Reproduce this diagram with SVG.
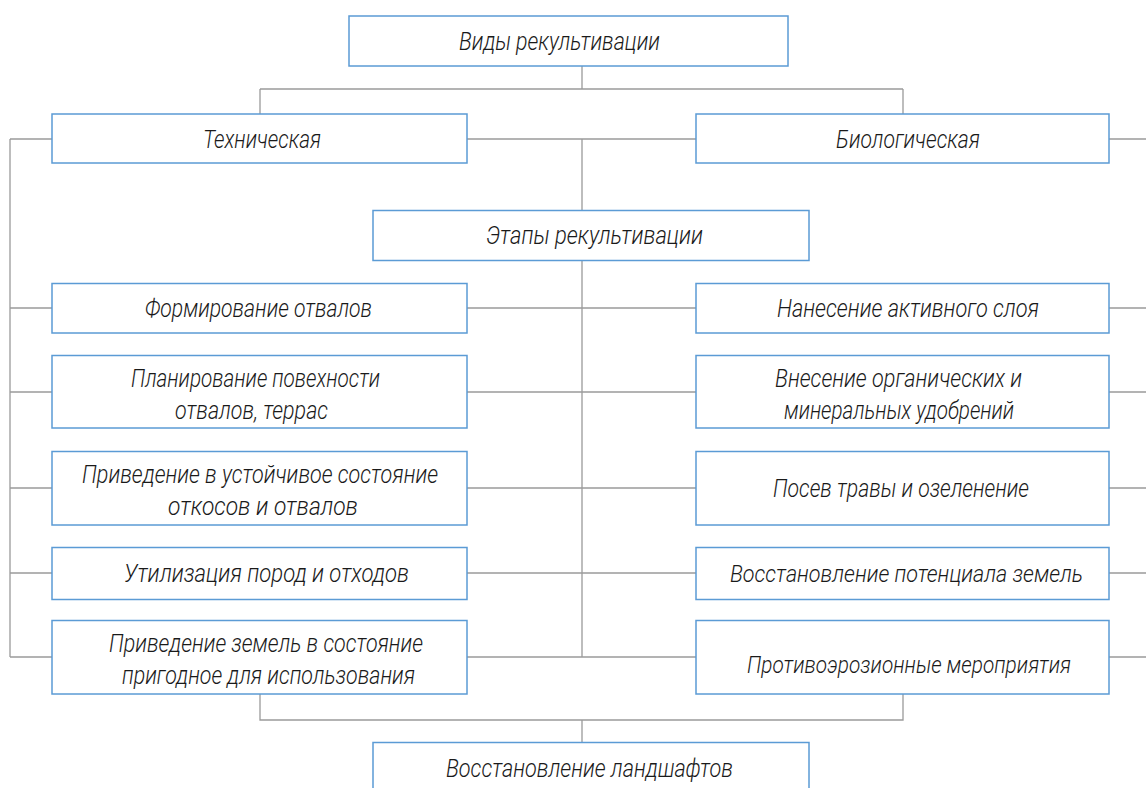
<svg xmlns="http://www.w3.org/2000/svg" width="1146" height="788" viewBox="0 0 1146 788">
<style>
.box{fill:#fff;stroke:#5b9bd5;stroke-width:1.5}
.ln{fill:none;stroke:#9a9a9a;stroke-width:1.3}
text{font-family:Roboto,"DejaVu Sans Condensed","Liberation Sans",sans-serif;font-weight:300;font-style:italic;font-size:25px;fill:#1a1a1a}
.sm{font-size:24px}
</style>
<rect width="1146" height="788" fill="#fff"/>
<g id="connectors" class="ln">
<path d="M582 66V89M260 89H903M260 89V114M903 89V114"/>
<path d="M10 139H52M467 139H696M1109 139H1146M582 139V210.5M582 260.5V657M10 139V657"/>
<path d="M10 308H52M467 308H696M1109 308H1146"/>
<path d="M10 392H52M467 392H696M1109 392H1146"/>
<path d="M10 488H52M467 488H696M1109 488H1146"/>
<path d="M10 573H52M467 573H696M1109 573H1146"/>
<path d="M10 657H52M467 657H696M1109 657H1146"/>
<path d="M260 694V720H903V694M582 720V742.5"/>
</g>
<g id="n-vidy"><rect class="box" x="349" y="16" width="439" height="50"/><text x="459" y="50" textLength="201" lengthAdjust="spacingAndGlyphs">Виды рекультивации</text></g>
<g id="n-tech"><rect class="box" x="52" y="114" width="415" height="49"/><text x="203" y="147.5" textLength="118" lengthAdjust="spacingAndGlyphs">Техническая</text></g>
<g id="n-bio"><rect class="box" x="696" y="114" width="413" height="49"/><text x="836" y="147.5" textLength="144" lengthAdjust="spacingAndGlyphs">Биологическая</text></g>
<g id="n-etapy"><rect class="box" x="373" y="210.5" width="436" height="50"/><text x="486" y="244" textLength="217" lengthAdjust="spacingAndGlyphs">Этапы рекультивации</text></g>
<g id="n-l1"><rect class="box" x="52" y="283.5" width="415" height="49.5"/><text x="145" y="317" textLength="227" lengthAdjust="spacingAndGlyphs">Формирование отвалов</text></g>
<g id="n-l2"><rect class="box" x="52" y="355.5" width="415" height="72.5"/><text x="131" y="387" textLength="249" lengthAdjust="spacingAndGlyphs">Планирование повехности</text><text x="175" y="419" textLength="153" lengthAdjust="spacingAndGlyphs">отвалов, террас</text></g>
<g id="n-l3"><rect class="box" x="52" y="451.5" width="415" height="73.5"/><text x="82" y="483" textLength="356" lengthAdjust="spacingAndGlyphs">Приведение в устойчивое состояние</text><text x="168" y="515" textLength="190" lengthAdjust="spacingAndGlyphs">откосов и отвалов</text></g>
<g id="n-l4"><rect class="box" x="52" y="547.5" width="415" height="52"/><text x="124" y="582" textLength="285" lengthAdjust="spacingAndGlyphs">Утилизация пород и отходов</text></g>
<g id="n-l5"><rect class="box" x="52" y="620.5" width="415" height="73.5"/><text x="109" y="652" textLength="314" lengthAdjust="spacingAndGlyphs">Приведение земель в состояние</text><text x="122" y="684" textLength="293" lengthAdjust="spacingAndGlyphs">пригодное для использования</text></g>
<g id="n-r1"><rect class="box" x="696" y="283.5" width="413" height="49.5"/><text x="777" y="317" textLength="262" lengthAdjust="spacingAndGlyphs">Нанесение активного слоя</text></g>
<g id="n-r2"><rect class="box" x="696" y="355.5" width="413" height="72.5"/><text x="775" y="387" textLength="247" lengthAdjust="spacingAndGlyphs">Внесение органических и</text><text x="784" y="419" textLength="230" lengthAdjust="spacingAndGlyphs">минеральных удобрений</text></g>
<g id="n-r3"><rect class="box" x="696" y="451.5" width="413" height="73.5"/><text x="773" y="497" textLength="256" lengthAdjust="spacingAndGlyphs">Посев травы и озеленение</text></g>
<g id="n-r4"><rect class="box" x="696" y="547.5" width="413" height="52"/><text class="sm" x="730" y="582" textLength="353" lengthAdjust="spacingAndGlyphs">Восстановление потенциала земель</text></g>
<g id="n-r5"><rect class="box" x="696" y="620.5" width="413" height="73.5"/><text class="sm" x="747" y="673" textLength="324" lengthAdjust="spacingAndGlyphs">Противоэрозионные мероприятия</text></g>
<g id="n-landscape"><rect class="box" x="373" y="742.5" width="436" height="60"/><text x="446" y="777" textLength="287" lengthAdjust="spacingAndGlyphs">Восстановление ландшафтов</text></g>
</svg>
